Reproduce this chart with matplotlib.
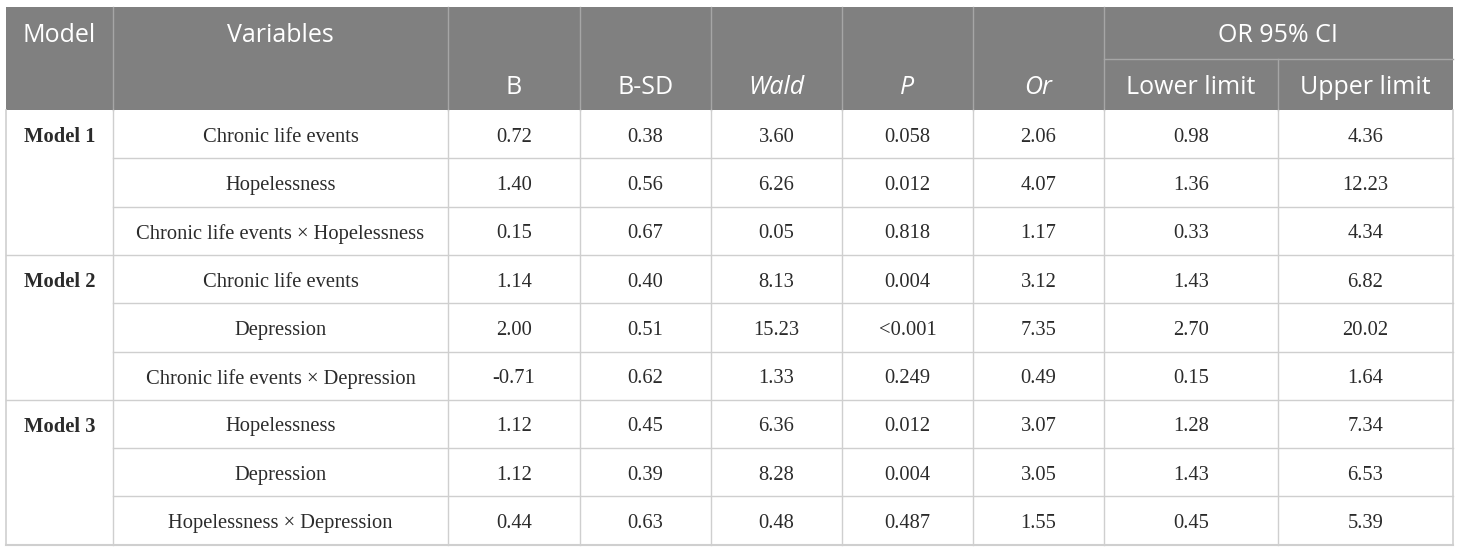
import matplotlib
matplotlib.use("Agg")
import matplotlib.pyplot as plt
from matplotlib.patches import Rectangle

# table content
models = ["Model 1", "Model 2", "Model 3"]
variables = [
    "Chronic life events", "Hopelessness", "Chronic life events \u00d7 Hopelessness",
    "Chronic life events", "Depression", "Chronic life events \u00d7 Depression",
    "Hopelessness", "Depression", "Hopelessness \u00d7 Depression",
]
b_vals = ["0.72", "1.40", "0.15", "1.14", "2.00", "-0.71", "1.12", "1.12", "0.44"]
bsd_vals = ["0.38", "0.56", "0.67", "0.40", "0.51", "0.62", "0.45", "0.39", "0.63"]
wald_vals = ["3.60", "6.26", "0.05", "8.13", "15.23", "1.33", "6.36", "8.28", "0.48"]
p_vals = ["0.058", "0.012", "0.818", "0.004", "<0.001", "0.249", "0.012", "0.004", "0.487"]
or_vals = ["2.06", "4.07", "1.17", "3.12", "7.35", "0.49", "3.07", "3.05", "1.55"]
lower_vals = ["0.98", "1.36", "0.33", "1.43", "2.70", "0.15", "1.28", "1.43", "0.45"]
upper_vals = ["4.36", "12.23", "4.34", "6.82", "20.02", "1.64", "7.34", "6.53", "5.39"]

top_headers = ["Model", "Variables"]
sub_headers = ["B", "B-SD", "Wald", "P", "Or", "Lower limit", "Upper limit"]
italic_headers = {"Wald", "P", "Or"}
group_header = "OR 95% CI"

# layout (pixels)
W, H = 1460, 554
col_x = [6, 113, 448, 580, 711, 842, 973, 1104, 1278, 1453]
y_top, y_mid, y_head = 7, 59, 110
row_h = 48.3

header_bg = "#808080"
grid_col = "#cfcfcf"
text_col = "#2b2b2b"
sans = ["Open Sans", "DejaVu Sans"]
serif = ["Liberation Serif", "DejaVu Serif"]

fig = plt.figure(figsize=(W / 100, H / 100), dpi=100)
ax = fig.add_axes([0, 0, 1, 1])
ax.set_xlim(0, W)
ax.set_ylim(H, 0)
ax.axis("off")

# header background
ax.add_patch(Rectangle((col_x[0], y_top), col_x[-1] - col_x[0], y_head - y_top,
                       facecolor=header_bg, edgecolor="none"))
# header separators
for x in col_x[1:-1]:
    if x == 1278:
        ax.plot([x, x], [y_mid, y_head], color="#a6a6a6", lw=1)
    else:
        ax.plot([x, x], [y_top, y_head], color="#a6a6a6", lw=1)
ax.plot([col_x[7], col_x[9]], [y_mid, y_mid], color="#a6a6a6", lw=1)

hsize = 18
ytop_text = (y_top + y_mid) / 2 + 3
ysub_text = (y_mid + y_head) / 2 + 3
ax.text((col_x[0] + col_x[1]) / 2, ytop_text, top_headers[0],
        ha="center", va="center", color="white", fontsize=hsize, family=sans)
ax.text((col_x[1] + col_x[2]) / 2, ytop_text, top_headers[1],
        ha="center", va="center", color="white", fontsize=hsize, family=sans)
ax.text((col_x[7] + col_x[9]) / 2, ytop_text, group_header,
        ha="center", va="center", color="white", fontsize=hsize, family=sans)
for i, h in enumerate(sub_headers):
    cx = (col_x[i + 2] + col_x[i + 3]) / 2
    ax.text(cx, ysub_text, h, ha="center", va="center", color="white",
            fontsize=hsize, family=sans,
            style="italic" if h in italic_headers else "normal")

# body
columns = [variables, b_vals, bsd_vals, wald_vals, p_vals, or_vals, lower_vals, upper_vals]
n_rows = len(variables)
bsize = 14.8
for r in range(n_rows):
    yc = y_head + (r + 0.5) * row_h + 3
    for c, vals in enumerate(columns):
        cx = (col_x[c + 1] + col_x[c + 2]) / 2
        ax.text(cx, yc, vals[r], ha="center", va="center", color=text_col,
                fontsize=bsize, family=serif)

for g, m in enumerate(models):
    yc = y_head + (3 * g + 0.5) * row_h + 3
    ax.text((col_x[0] + col_x[1]) / 2, yc, m, ha="center", va="center", color=text_col,
            fontsize=bsize, family=serif, weight="bold")

# grid lines
y_bot = y_head + n_rows * row_h
for r in range(1, n_rows):
    y = y_head + r * row_h
    x0 = col_x[0] if r % 3 == 0 else col_x[1]
    ax.plot([x0, col_x[-1]], [y, y], color=grid_col, lw=1)
ax.plot([col_x[0], col_x[-1]], [y_bot, y_bot], color=grid_col, lw=1.5)
for x in col_x:
    ax.plot([x, x], [y_head, y_bot], color=grid_col, lw=1.2 if x in (col_x[0], col_x[-1]) else 1)

fig.savefig("out.png", dpi=100)
